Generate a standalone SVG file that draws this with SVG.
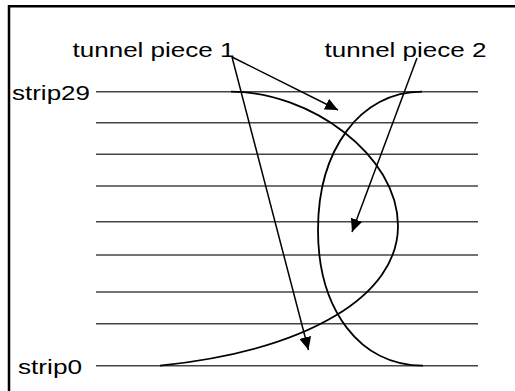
<svg xmlns="http://www.w3.org/2000/svg" width="515" height="391" viewBox="0 0 515 391">
<style>
.lbl{font-family:"Liberation Sans",Arial,sans-serif;font-size:21px;fill:#000}
.strip{stroke:#444;stroke-width:1.4;fill:none}
.curve{stroke:#000;stroke-width:1.8;fill:none}
.arrow{stroke:#000;stroke-width:1.5;fill:none;marker-end:url(#ah)}
</style>
<defs>
<marker id="ah" markerUnits="userSpaceOnUse" markerWidth="14" markerHeight="12" refX="13" refY="6" orient="auto">
<path d="M0,0 L13,6 L0,12 Z" fill="#000"/>
</marker>
</defs>
<rect width="515" height="391" fill="#fff"/>
<path d="M9,395 V6.3 H520" fill="none" stroke="#000" stroke-width="2.5"/>
<g id="strips">
<line class="strip" x1="96" y1="91.7" x2="478" y2="91.7"/>
<line class="strip" x1="96" y1="122.7" x2="478" y2="122.7"/>
<line class="strip" x1="96" y1="154.3" x2="478" y2="154.3"/>
<line class="strip" x1="96" y1="186" x2="478" y2="186"/>
<line class="strip" x1="96" y1="221.7" x2="478" y2="221.7"/>
<line class="strip" x1="96" y1="255" x2="478" y2="255"/>
<line class="strip" x1="96" y1="292" x2="478" y2="292"/>
<line class="strip" x1="96" y1="323.7" x2="478" y2="323.7"/>
<line class="strip" x1="96" y1="365.7" x2="478" y2="365.7"/>
</g>
<g id="label-strip29"><text class="lbl" x="12" y="99.5" textLength="78" lengthAdjust="spacingAndGlyphs">strip29</text></g>
<g id="label-strip0"><text class="lbl" x="18" y="373.5" textLength="64" lengthAdjust="spacingAndGlyphs">strip0</text></g>
<g id="tunnel1-curve"><path class="curve" d="M231,91.7 C310,91.7 398,155 398,226 C398,295 310,350 160,365.7"/></g>
<g id="tunnel2-curve"><path class="curve" d="M422,91.7 C360,91.7 318,150 318,230 C318,310 360,365.7 423,365.7"/></g>
<g id="label-tunnel1"><text class="lbl" x="72.5" y="56.5" textLength="162" lengthAdjust="spacingAndGlyphs">tunnel piece 1</text></g>
<g id="label-tunnel2"><text class="lbl" x="324.5" y="56.5" textLength="162" lengthAdjust="spacingAndGlyphs">tunnel piece 2</text></g>
<g id="connectors">
<line class="arrow" x1="232" y1="57" x2="338" y2="110"/>
<line class="arrow" x1="232" y1="57" x2="308.5" y2="350"/>
<line class="arrow" x1="417" y1="58" x2="352" y2="232"/>
</g>
</svg>
